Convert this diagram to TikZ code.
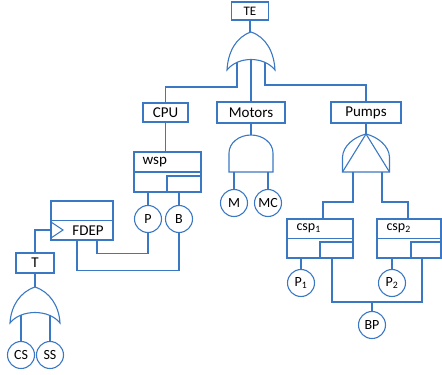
\documentclass[tikz,border=0pt]{standalone}
\usepackage{fontspec}
\setmainfont{Carlito}
\definecolor{ln}{RGB}{58,120,195}
\begin{document}
\begin{tikzpicture}[x=1pt,y=-1pt,line width=1.1pt,color=ln,
  box/.style={draw=ln,rectangle,inner sep=0pt,text=black,font=\fontsize{15}{17}\selectfont},
  circ/.style={draw=ln,circle,minimum size=27pt,inner sep=0pt,text=black,font=\fontsize{14}{16}\selectfont},
  lbl/.style={inner sep=0pt,text=black,anchor=west,font=\fontsize{14}{16}\selectfont}]
\useasboundingbox (0,0) rectangle (442,375);
% top event
\node[box,minimum width=37pt,minimum height=18pt,font=\fontsize{13}{15}\selectfont] (TE) at (250,11) {TE};
\node[box,minimum width=45pt,minimum height=19pt] (CPU) at (165.5,112.5) {CPU};
\node[box,minimum width=68pt,minimum height=21pt] (Motors) at (251,112.5) {Motors};
\node[box,minimum width=70pt,minimum height=21pt] (Pumps) at (366,112.5) {Pumps};
% top OR gate
\draw (251,32) .. controls (236,37) and (228,52) .. (227,70) .. controls (238,56) and (264,56) .. (275,70) .. controls (274,52) and (266,37) .. (251,32);
\coordinate (g1T) at (251,32);
\coordinate (g1L) at (237,62);
\coordinate (g1C) at (251,60);
\coordinate (g1R) at (265,62);
\draw (TE.south) -- (TE.south |- g1T);
\draw (g1L) -- ++(0,25) -| (CPU.north);
\draw (g1C) -- (g1C |- Motors.north);
\draw (g1R) -- ++(0,23) -| (Pumps.north);
% wsp
\node[box,minimum width=67pt,minimum height=40pt] (wsp) at (167.5,172) {};
\node[lbl,font=\fontsize{15}{17}\selectfont] (wspT) at (142,162) {wsp};
\draw (wsp.west) -- (wsp.east);
\draw (167,192) -- (167,176) -- (201,176);
\draw (CPU.south) -- (CPU.south |- wsp.north);
\node[circ] (P) at (148,219) {P};
\node[circ] (B) at (179,219) {B};
\draw (P.north) -- (P.north |- wsp.south);
\draw (B.north) -- (B.north |- wsp.south);
% FDEP
\node[box,minimum width=62pt,minimum height=39pt] (FDEP) at (82,220.5) {};
\draw (FDEP.west) -- (FDEP.east);
\draw (51,222) -- (63,230) -- (51,238);
\node[inner sep=0pt,text=black,font=\fontsize{15}{17}\selectfont] (FDEPT) at (88,230.5) {FDEP};
\node[box,minimum width=38pt,minimum height=20pt] (T) at (35,263) {T};
\coordinate (trig) at (51,230);
\draw (trig) -- (trig -| T.north) -- (T.north);
\draw ([xshift=15pt]FDEP.south) -- ++(0,13) -| (P.south);
\draw ([xshift=-5pt]FDEP.south) -- ++(0,30) -| (B.south);
% OR gate under T
\draw (35,287) .. controls (20,292) and (11,306) .. (10,323) .. controls (21,309) and (49,309) .. (60,323) .. controls (59,306) and (50,292) .. (35,287);
\coordinate (g2T) at (35,287);
\draw (T.south) -- (g2T);
\node[circ] (CS) at (21,355) {CS};
\node[circ] (SS) at (50,355) {SS};
\draw (CS.north) -- (21,315);
\draw (SS.north) -- (50,315);
% AND gate under Motors
\draw (229,172) -- (229,153) .. controls (229,143) and (239,135) .. (251,135) .. controls (263,135) and (273,143) .. (273,153) -- (273,172) -- cycle;
\coordinate (g3T) at (251,135);
\draw (Motors.south) -- (g3T);
\node[circ] (M) at (234,203) {M};
\node[circ] (MC) at (268,203) {MC};
\draw (M.north) -- (234,172);
\draw (MC.north) -- (268,172);
% PAND gate under Pumps
\draw (342.5,172) -- (342.5,157) .. controls (343,146) and (354,137) .. (366,134) .. controls (378,137) and (389,146) .. (389.5,157) -- (389.5,172) -- cycle;
\draw (342.5,172) -- (366,134) -- (389.5,172);
\coordinate (g4T) at (366,134);
\draw (Pumps.south) -- (g4T);
% csp gates
\node[box,minimum width=66pt,minimum height=39pt] (csp1) at (320,238.5) {};
\node[box,minimum width=64pt,minimum height=39pt] (csp2) at (409,238.5) {};
\draw (csp1.west) -- (csp1.east);
\draw (csp2.west) -- (csp2.east);
\draw (320,258) -- (320,242) -- (353,242);
\draw (411,258) -- (411,242) -- (441,242);
\node[lbl] (csp1T) at (296,228) {csp\textsubscript{1}};
\node[lbl] (csp2T) at (386,228) {csp\textsubscript{2}};
\draw (353,172) -- (353,202) -| ([xshift=3pt]csp1.north);
\draw (382,172) -- (382,202) -| ([xshift=-1pt]csp2.north);
\node[circ] (P1) at (301,283) {P\textsubscript{1}};
\node[circ] (P2) at (392,283) {P\textsubscript{2}};
\draw (P1.north) -- (P1.north |- csp1.south);
\draw (P2.north) -- (P2.north |- csp2.south);
\node[circ] (BP) at (372,325) {BP};
\coordinate (bpL) at (332,258);
\coordinate (bpR) at (422,258);
\draw (bpL) -- (332,302) -- (422,302) -- (bpR);
\draw (BP.north) -- (BP.north |- 0,302);
\end{tikzpicture}
\end{document}
